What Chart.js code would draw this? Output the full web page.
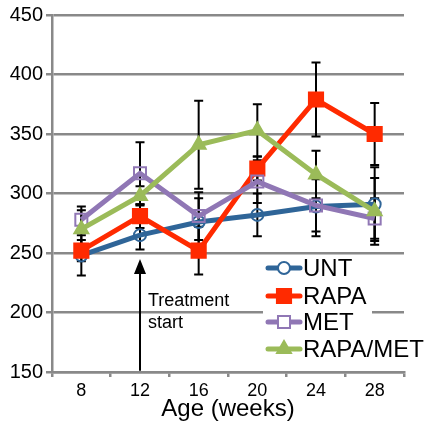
<!DOCTYPE html>
<html>
<head>
<meta charset="utf-8">
<script src="https://cdn.jsdelivr.net/npm/chart.js"></script>
<style>
  body { margin: 0; background: #fff; }
  #wrap { width: 433px; height: 432px; }
</style>
</head>
<body>
<div id="wrap"><canvas id="chart" width="433" height="432"></canvas></div>
<script>
// weeks of age
const ages = ['8', '12', '16', '20', '24', '28'];

// means
const unt = [248, 265, 276, 282, 289, 291];
const rapa = [252, 281, 252, 321, 379, 350];
const met = [278, 317, 281, 310, 290, 279];
const rapaMet = [270, 298, 341, 353, 316, 285];

// +/- error (symmetric)
const untErr = [17, 12, 20, 18, 25, 31];
const rapaErr = [9, 10, 20, 10, 31, 26];
const metErr = [11, 26, 20, 18, 22, 17];
const rapaMetErr = [16, 8, 37, 22, 20, 28];

const yTicks = [150, 200, 250, 300, 350, 400, 450];
const treatmentIndex = 1; // arrow at week 12

const GRID = '#898989';
const FONT = '"Liberation Sans", Arial, sans-serif';
Chart.defaults.font.family = FONT;
Chart.defaults.color = '#000';

function makeSet(label, data, errs, color, style, radius, fill, order) {
  return {
    label, data, errs,
    borderColor: color,
    backgroundColor: fill,
    borderWidth: 5,
    tension: 0,
    pointStyle: style,
    pointRadius: radius,
    pointBorderWidth: 2,
    pointBackgroundColor: fill,
    pointBorderColor: color,
    order
  };
}

const datasets = [
  makeSet('UNT', unt, untErr, '#2f6598', 'circle', 6, 'rgba(255,255,255,0)', 4),
  makeSet('RAPA', rapa, rapaErr, '#ff2a00', 'rect', 10, '#ff2a00', 3),
  makeSet('MET', met, metErr, '#9077b5', 'rect', 8.5, 'rgba(255,255,255,0)', 2),
  makeSet('RAPA/MET', rapaMet, rapaMetErr, '#9bbb59', 'triangle', 8, '#9bbb59', 1)
];

// black error bars behind the lines
const errorBars = {
  id: 'errorBars',
  beforeDatasetsDraw(chart) {
    const { ctx, scales: { x, y } } = chart;
    ctx.save();
    ctx.strokeStyle = '#000';
    ctx.lineWidth = 2;
    chart.data.datasets.forEach(ds => {
      ds.data.forEach((v, i) => {
        const px = x.getPixelForValue(i);
        const top = y.getPixelForValue(v + ds.errs[i]);
        const bot = y.getPixelForValue(v - ds.errs[i]);
        ctx.beginPath();
        ctx.moveTo(px, top); ctx.lineTo(px, bot);
        ctx.moveTo(px - 4.5, top); ctx.lineTo(px + 4.5, top);
        ctx.moveTo(px - 4.5, bot); ctx.lineTo(px + 4.5, bot);
        ctx.stroke();
      });
    });
    ctx.restore();
  }
};

function drawMarker(ctx, style, x, y, r) {
  ctx.beginPath();
  if (style === 'circle') {
    ctx.arc(x, y, r, 0, Math.PI * 2);
  } else if (style === 'rect') {
    const s = r * Math.SQRT1_2;
    ctx.rect(x - s, y - s, 2 * s, 2 * s);
  } else {
    const w = r * Math.sqrt(3) / 2;
    ctx.moveTo(x, y - r);
    ctx.lineTo(x + w, y + r / 2);
    ctx.lineTo(x - w, y + r / 2);
    ctx.closePath();
  }
}

// treatment arrow, its label, and the legend inside the plot
const overlay = {
  id: 'overlay',
  afterDatasetsDraw(chart) {
    const { ctx, chartArea, scales: { x, y } } = chart;
    ctx.save();

    const ax = x.getPixelForValue(treatmentIndex);
    const tip = y.getPixelForValue(245);
    const base = y.getPixelForValue(151);
    ctx.strokeStyle = '#000';
    ctx.fillStyle = '#000';
    ctx.lineWidth = 2;
    ctx.beginPath();
    ctx.moveTo(ax, base); ctx.lineTo(ax, tip + 10);
    ctx.stroke();
    ctx.beginPath();
    ctx.moveTo(ax, tip);
    ctx.lineTo(ax + 6, tip + 15);
    ctx.lineTo(ax - 6, tip + 15);
    ctx.closePath();
    ctx.fill();

    ctx.font = '18px ' + FONT;
    ctx.textAlign = 'left';
    ctx.textBaseline = 'middle';
    ctx.fillText('Treatment', ax + 8, y.getPixelForValue(210));
    ctx.fillText('start', ax + 8, y.getPixelForValue(191));

    // legend
    const lx = chartArea.right - 136;
    const rows = [104, 76, 50, 23];
    ctx.fillStyle = '#fff';
    ctx.fillRect(chartArea.right - 141, chartArea.bottom - 117, 109, 106);
    chart.data.datasets.forEach((ds, i) => {
      const ly = chartArea.bottom - rows[i];
      ctx.strokeStyle = ds.borderColor;
      ctx.lineWidth = 5;
      ctx.lineCap = 'round';
      ctx.beginPath();
      ctx.moveTo(lx, ly); ctx.lineTo(lx + 32, ly);
      ctx.stroke();
      ctx.lineCap = 'butt';
      drawMarker(ctx, ds.pointStyle, lx + 16, ly, ds.pointRadius);
      ctx.fillStyle = ds.pointBackgroundColor === 'rgba(255,255,255,0)' ? '#fff' : ds.pointBackgroundColor;
      ctx.fill();
      ctx.lineWidth = 2;
      ctx.strokeStyle = ds.borderColor;
      ctx.stroke();
      ctx.fillStyle = '#000';
      ctx.font = '24px ' + FONT;
      ctx.textBaseline = 'middle';
      ctx.fillText(ds.label, lx + 35, ly + 1);
    });
    ctx.restore();
  }
};

new Chart(document.getElementById('chart'), {
  type: 'line',
  data: { labels: ages, datasets },
  options: {
    responsive: false,
    animation: false,
    layout: { padding: { left: 0, right: 29, top: 11, bottom: 0 } },
    plugins: { legend: { display: false }, tooltip: { enabled: false } },
    scales: {
      x: {
        offset: true,
        grid: { drawOnChartArea: false, offset: true, color: GRID, lineWidth: 2.5, tickLength: 5 },
        border: { color: GRID, width: 2.5 },
        ticks: { font: { size: 18 }, padding: 3, color: '#000' },
        title: { display: true, text: 'Age (weeks)', font: { size: 24 }, padding: { top: 0, bottom: 8 }, color: '#000' },
        afterFit(scale) { scale.height = 60; }
      },
      y: {
        min: 150,
        max: 450,
        afterBuildTicks(scale) { scale.ticks = yTicks.map(v => ({ value: v })); },
        grid: { color: GRID, lineWidth: 2.5, tickLength: 6 },
        border: { color: GRID, width: 2.5 },
        ticks: { font: { size: 20 }, padding: 3, color: '#000' },
        afterFit(scale) { scale.width = 52; }
      }
    }
  },
  plugins: [errorBars, overlay]
});
</script>
</body>
</html>
